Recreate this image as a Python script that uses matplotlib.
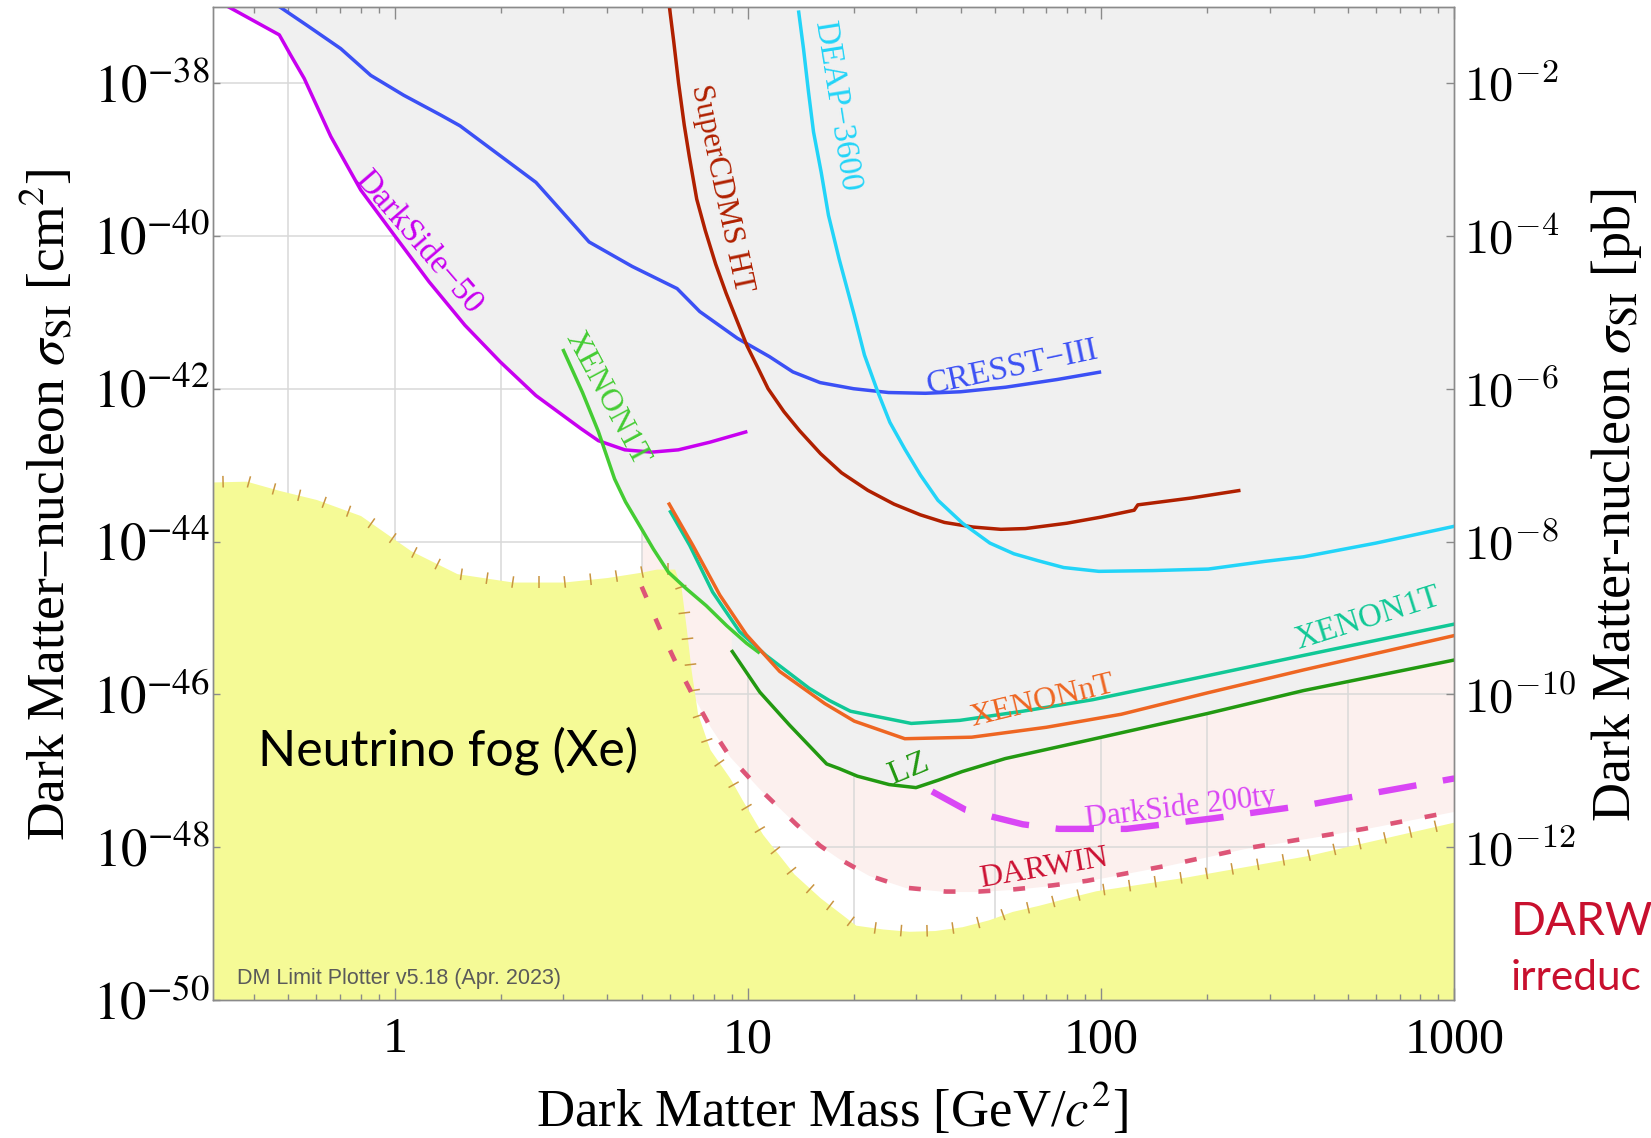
import numpy as np
import matplotlib
matplotlib.use("Agg")
import matplotlib.pyplot as plt
from matplotlib.collections import LineCollection
from matplotlib.ticker import LogLocator, NullLocator, NullFormatter

# ---------------- data: mass [GeV/c^2], log10(sigma_SI [cm^2]) ----------------
ds50_mass = [0.337, 0.471, 0.508, 0.554, 0.659, 0.801, 1.0, 1.25, 1.58, 1.99, 2.51, 3.36, 3.77, 4.48, 5.34, 6.35, 7.8, 9.96]
ds50_log = [-37.0, -37.37, -37.64, -37.94, -38.70, -39.40, -40.0, -40.6, -41.17, -41.65, -42.09, -42.52, -42.68, -42.80, -42.83, -42.80, -42.70, -42.56]

cresst_mass = [0.471, 0.566, 0.703, 0.855, 1.06, 1.35, 1.53, 2.51, 3.55, 4.7, 6.3, 7.3, 9.33, 11.5, 13.4, 16.0, 19.9, 25.0, 31.8, 40.0, 53.7, 75.0, 100.0]
cresst_log = [-37.0, -37.25, -37.55, -37.90, -38.16, -38.42, -38.56, -39.30, -40.08, -40.40, -40.69, -40.99, -41.34, -41.58, -41.78, -41.92, -42.00, -42.05, -42.06, -42.04, -41.98, -41.88, -41.78]

scdms_mass = [5.99, 6.16, 6.36, 6.60, 6.82, 7.16, 7.57, 8.10, 8.67, 9.29, 9.94, 10.65, 11.4, 12.64, 14.0, 16.05, 18.4, 21.85, 25.9, 30.75, 36.0, 43.3, 52.0, 61.0, 80.0, 100.0, 124.0, 127.0, 180.0, 248.0]
scdms_log = [-37.0, -37.45, -38.0, -38.55, -38.96, -39.52, -39.93, -40.37, -40.75, -41.10, -41.44, -41.72, -42.0, -42.30, -42.55, -42.85, -43.10, -43.33, -43.51, -43.65, -43.75, -43.81, -43.84, -43.83, -43.76, -43.68, -43.59, -43.52, -43.43, -43.33]

deap_mass = [13.9, 14.36, 14.84, 15.33, 16.12, 16.9, 18.11, 20.0, 21.37, 23.3, 25.22, 27.8, 30.78, 34.5, 40.5, 48.4, 56.6, 66.2, 78.3, 98.5, 140.0, 201.0, 290.0, 374.0, 600.0, 1000.0]
deap_log = [-37.05, -37.55, -38.12, -38.64, -39.17, -39.73, -40.30, -41.04, -41.56, -42.04, -42.44, -42.79, -43.13, -43.46, -43.76, -44.02, -44.16, -44.25, -44.34, -44.39, -44.38, -44.36, -44.26, -44.20, -44.02, -43.80]

xe1t_low_mass = [2.99, 3.4, 3.77, 4.19, 4.5, 4.99, 5.4, 5.95, 6.7, 7.62, 8.7, 9.9, 10.8]
xe1t_low_log = [-41.48, -42.05, -42.56, -43.18, -43.48, -43.83, -44.10, -44.40, -44.62, -44.84, -45.10, -45.33, -45.46]

xe1t_mass = [6.0, 6.84, 7.94, 9.47, 11.25, 14.9, 17.0, 19.5, 29.0, 39.8, 60.0, 94.5, 180.0, 374.0, 1000.0]
xe1t_log = [-43.59, -44.05, -44.66, -45.18, -45.49, -45.92, -46.08, -46.22, -46.38, -46.34, -46.22, -46.07, -45.80, -45.49, -45.08]

xent_mass = [5.95, 6.98, 8.32, 9.9, 12.3, 16.5, 20.0, 27.8, 43.0, 70.0, 114.0, 200.0, 374.0, 1000.0]
xent_log = [-43.49, -44.05, -44.70, -45.22, -45.70, -46.12, -46.35, -46.58, -46.56, -46.43, -46.26, -45.98, -45.68, -45.23]

lz_mass = [8.97, 10.8, 13.1, 16.7, 18.1, 20.4, 25.1, 29.9, 34.7, 40.4, 53.5, 91.8, 200.0, 374.0, 1000.0]
lz_log = [-45.42, -45.97, -46.40, -46.91, -46.97, -47.07, -47.18, -47.22, -47.12, -47.01, -46.84, -46.60, -46.25, -45.95, -45.55]

ds200_mass = [33.2, 41.3, 49.1, 60.0, 75.9, 118.0, 209.0, 381.0, 1000.0]
ds200_log = [-47.27, -47.51, -47.60, -47.70, -47.76, -47.76, -47.62, -47.45, -47.10]

darwin_mass = [5.0, 5.63, 6.27, 6.98, 7.81, 8.9, 10.8, 13.7, 16.0, 18.1, 22.0, 28.0, 36.3, 45.0, 57.0, 72.5, 91.0, 150.0, 253.0, 555.0, 1000.0]
darwin_log = [-44.59, -45.14, -45.60, -46.01, -46.42, -46.82, -47.24, -47.70, -47.98, -48.15, -48.37, -48.53, -48.58, -48.58, -48.55, -48.50, -48.44, -48.25, -48.02, -47.76, -47.53]

fog_mass = [0.305, 0.38, 0.47, 0.6, 0.8, 1.11, 1.5, 2.16, 3.01, 4.0, 5.0, 5.51, 6.2, 6.47, 6.69, 6.91, 7.2, 7.8, 8.9, 9.6, 11.0, 13.5, 16.0, 20.2, 24.1, 28.6, 33.8, 40.4, 48.0, 56.0, 66.5, 79.0, 96.5, 174.0, 383.0, 1000.0]
fog_log = [-43.22, -43.21, -43.33, -43.45, -43.66, -44.12, -44.42, -44.53, -44.53, -44.47, -44.40, -44.36, -44.36, -44.61, -45.14, -45.70, -46.25, -46.72, -47.10, -47.37, -47.83, -48.35, -48.66, -49.02, -49.07, -49.10, -49.09, -49.04, -48.95, -48.84, -48.76, -48.67, -48.57, -48.39, -48.11, -47.67]

xtick_values = [1, 10, 100, 1000]
xtick_labels = ["1", "10", "100", "1000"]
ytick_exp = [-38, -40, -42, -44, -46, -48, -50]
pb_tick_exp = [-2, -4, -6, -8, -10, -12]
grid_x = [0.5, 1, 2, 5, 10, 20, 50, 100, 200, 500]
grid_y_exp = [-38, -40, -42, -44, -46, -48]

# ---------------- style ----------------
SERIF = ["Liberation Serif", "DejaVu Serif"]
SANS = ["Lato", "DejaVu Sans"]
plt.rcParams["font.family"] = SERIF
plt.rcParams["mathtext.fontset"] = "stix"

GRAY_FILL = "#f0f0f0"
PINK_FILL = "#fcf0ee"
FOG_FILL = "#f5fa96"
GRID = "#d9d9d9"
SPINE = "#8a8a8a"
C_DS50 = "#c800f0"
C_CRESST = "#3b50f5"
C_SCDMS = "#b02000"
C_DEAP = "#22d4f8"
C_X1L = "#44cc33"
C_X1T = "#11c896"
C_XNT = "#ee6622"
C_LZ = "#229911"
C_DS200 = "#d946f5"
C_DARWIN = "#dd5577"
C_DARWIN_TXT = "#cc1133"


def sig(logs):
    return 10.0 ** np.asarray(logs, dtype=float)


fig = plt.figure(figsize=(16.51, 11.38), dpi=100)
ax = fig.add_axes([0.1288, 0.1212, 0.7521, 0.8730])
ax.set_xscale("log")
ax.set_yscale("log")
XMIN, XMAX, YMIN, YMAX = 0.305, 1000.0, 1e-50, 1e-37
ax.set_xlim(XMIN, XMAX)
ax.set_ylim(YMIN, YMAX)

# projected DARWIN reach
ax.fill_between(darwin_mass, sig(darwin_log), YMAX, color=PINK_FILL, lw=0, zorder=0.2)
# grid
for gx in grid_x:
    ax.axvline(gx, color=GRID, lw=1.1, zorder=0.5)
for gy in grid_y_exp:
    ax.axhline(10.0 ** gy, color=GRID, lw=1.1, zorder=0.5)

current = [
    (ds50_mass, ds50_log, C_DS50),
    (cresst_mass, cresst_log, C_CRESST),
    (scdms_mass, scdms_log, C_SCDMS),
    (deap_mass, deap_log, C_DEAP),
    (xe1t_low_mass, xe1t_low_log, C_X1L),
    (xe1t_mass, xe1t_log, C_X1T),
    (xent_mass, xent_log, C_XNT),
    (lz_mass, lz_log, C_LZ),
]
for m, l, c in current:
    ax.fill_between(m, sig(l), YMAX, color=GRAY_FILL, lw=0, zorder=0.7)

# neutrino fog
ax.fill_between(fog_mass, YMIN, sig(fog_log), color=FOG_FILL, lw=0, zorder=0.8)

# hatch ticks along fog boundary
pts = ax.transData.transform(np.column_stack([fog_mass, sig(fog_log)]))
seg = np.diff(pts, axis=0)
seglen = np.hypot(seg[:, 0], seg[:, 1])
cum = np.concatenate([[0.0], np.cumsum(seglen)])
step, half = 26.0, 5.8
tick_segs = []
inv = ax.transData.inverted()
for s in np.arange(step * 0.4, cum[-1], step):
    i = min(np.searchsorted(cum, s, side="right") - 1, len(seglen) - 1)
    t = (s - cum[i]) / seglen[i]
    p = pts[i] + t * seg[i]
    tan = seg[i] / seglen[i]
    nrm = np.array([-tan[1], tan[0]])
    tick_segs.append(inv.transform(np.array([p - nrm * half, p + nrm * half])))
ax.add_collection(LineCollection(tick_segs, colors="#c99540", linewidths=1.1, zorder=0.9))

# limit curves
for m, l, c in current:
    ax.plot(m, sig(l), color=c, lw=2.5, zorder=3, solid_joinstyle="round", solid_capstyle="butt")
ax.plot(ds200_mass, sig(ds200_log), color=C_DS200, lw=4.6, ls=(0, (6.0, 4.2)), zorder=3)
ax.plot(darwin_mass, sig(darwin_log), color=C_DARWIN, lw=3.3, ls=(0, (2.6, 5.0)), zorder=3)

# curve labels
curve_labels = [
    ("DarkSide\u221250", 1.163, -40.08, -49.3, C_DS50, 24),
    ("SuperCDMS HT", 8.38, -39.38, -78, C_SCDMS, 22.5),
    ("DEAP\u22123600", 17.8, -38.30, -81, C_DEAP, 24),
    ("CRESST\u2212III", 56.2, -41.72, 12, C_CRESST, 24),
    ("XENON1T", 3.99, -42.13, -61.8, C_X1L, 23),
    ("XENON1T", 569, -45.01, 17.4, C_X1T, 23.5),
    ("XENONnT", 67.9, -46.09, 13.6, C_XNT, 23),
    ("LZ", 28.5, -46.97, 22, C_LZ, 24),
    ("DarkSide 200ty", 168, -47.49, 6.9, C_DS200, 22),
    ("DARWIN", 69, -48.28, 9.7, C_DARWIN_TXT, 23),
]
for txt, xm, ly, rot, c, fs in curve_labels:
    ax.text(xm, 10.0 ** ly, txt, color=c, fontsize=fs, rotation=rot, rotation_mode="anchor",
            ha="center", va="center", family=SERIF, zorder=5)

ax.text(0.0365, 0.236, "Neutrino fog (Xe)", transform=ax.transAxes, fontsize=36,
        family=SANS, color="black", ha="left", va="baseline", zorder=5)
ax.text(0.0195, 0.016, "DM Limit Plotter v5.18 (Apr. 2023)", transform=ax.transAxes, fontsize=15.5,
        family=["Liberation Sans", "DejaVu Sans"], color="#5a5a5a", ha="left", va="baseline", zorder=5)

# ticks
ax.set_xticks(xtick_values)
ax.set_xticklabels(xtick_labels, fontsize=36)
ax.xaxis.set_minor_locator(LogLocator(base=10.0, subs=np.arange(2, 10) * 1.0, numticks=30))
ax.xaxis.set_minor_formatter(NullFormatter())
ax.set_yticks(sig(ytick_exp))
ax.set_yticklabels([rf"$10^{{{e}}}$" for e in ytick_exp], fontsize=38)
ax.yaxis.set_minor_locator(NullLocator())
ax.tick_params(axis="x", which="major", direction="in", length=8.5, width=1, color=SPINE,
               top=True, bottom=True, pad=12)
ax.tick_params(axis="x", which="minor", direction="in", length=4.3, width=1, color=SPINE,
               top=True, bottom=True)
ax.tick_params(axis="y", which="major", direction="in", length=5, width=1, color=SPINE,
               left=True, right=False, pad=2)
for sp in ax.spines.values():
    sp.set_color(SPINE)
    sp.set_linewidth(1.0)
ax.set_xlim(XMIN, XMAX)
ax.set_ylim(YMIN, YMAX)

ax2 = ax.twinx()
ax2.set_yscale("log")
ax2.set_ylim(YMIN * 1e36, YMAX * 1e36)
ax2.set_yticks(sig(pb_tick_exp))
ax2.set_yticklabels([rf"$10^{{{e}}}$" for e in pb_tick_exp], fontsize=35)
ax2.yaxis.set_minor_locator(NullLocator())
for t in ax2.get_yticklabels():
    t.set_math_fontfamily("cm")
ax2.tick_params(axis="y", which="major", direction="in", length=5.5, width=1, color=SPINE, pad=7)
for sp in ax2.spines.values():
    sp.set_color(SPINE)
    sp.set_linewidth(1.0)
ax2.set_ylim(YMIN * 1e36, YMAX * 1e36)

# axis titles
fig.text(0.0287, 0.556, "Dark Matter\u2212nucleon $\\sigma_{\\mathrm{SI}}$ [cm$^2$]", rotation=90,
         ha="center", va="center", fontsize=38.5, family=SERIF)
fig.text(0.979, 0.556, "Dark Matter-nucleon $\\sigma_{\\mathrm{SI}}$ [pb]", rotation=90,
         ha="center", va="center", fontsize=39, family=SERIF)
fig.text(0.504, 0.025, "Dark Matter Mass [GeV/$c^2$]", ha="center", va="center", fontsize=38, family=SERIF)

# partly visible slide annotation on the right edge
fig.text(0.9150, 0.1785, "DARW", color="#c8102e", fontsize=33, family=SANS, ha="left", va="baseline")
fig.text(0.9150, 0.1300, "irreduc", color="#c8102e", fontsize=30.5, family=SANS, ha="left", va="baseline")

fig.savefig("out.png", dpi=100)
